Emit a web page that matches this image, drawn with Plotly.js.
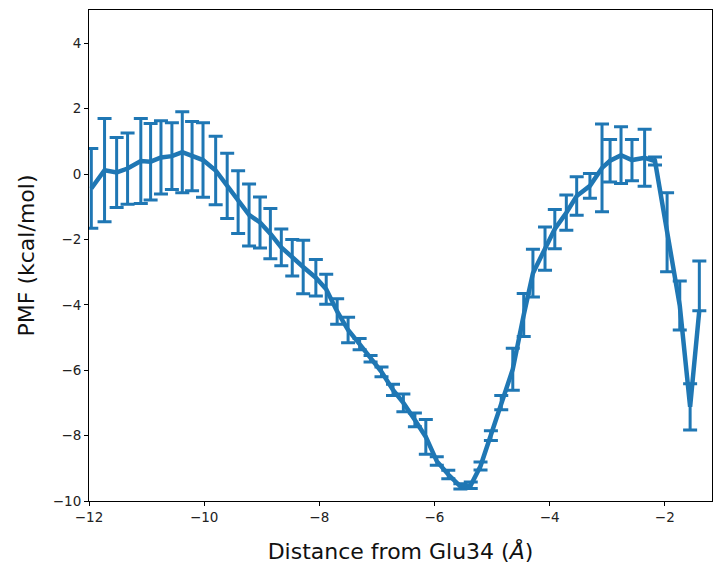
<!DOCTYPE html>
<html>
<head>
<meta charset="utf-8">
<script src="https://cdn.plot.ly/plotly-3.0.1.min.js"></script>
<style>html,body{margin:0;padding:0;background:#fff;}#chart{width:714px;height:565px;}</style>
</head>
<body>
<div id="chart"></div>
<script>
const distance = [-11.96,-11.73,-11.52,-11.33,-11.10,-10.93,-10.75,-10.56,-10.38,-10.21,
  -10.02,-9.80,-9.60,-9.41,-9.22,-9.03,-8.85,-8.66,-8.47,-8.28,
  -8.06,-7.88,-7.69,-7.50,-7.30,-7.11,-6.92,-6.72,-6.54,-6.34,
  -6.15,-5.96,-5.76,-5.55,-5.37,-5.20,-5.02,-4.84,-4.64,-4.45,
  -4.29,-4.08,-3.91,-3.71,-3.53,-3.30,-3.09,-2.95,-2.76,-2.57,
  -2.35,-2.17,-1.96,-1.74,-1.56,-1.40];
const pmf = [-0.44,0.12,0.05,0.17,0.40,0.38,0.51,0.55,0.67,0.55,
  0.43,0.11,-0.36,-0.86,-1.25,-1.48,-1.82,-2.24,-2.56,-2.84,
  -3.17,-3.52,-4.20,-4.77,-5.20,-5.65,-6.05,-6.60,-7.00,-7.52,
  -8.04,-8.78,-9.19,-9.55,-9.52,-8.93,-8.00,-6.99,-5.97,-4.31,
  -3.03,-2.28,-1.68,-1.18,-0.67,-0.36,0.19,0.41,0.58,0.43,
  0.50,0.40,-1.78,-4.02,-7.12,-4.16];
const errUp = [1.22,1.58,1.07,1.09,1.30,1.17,1.12,1.02,1.24,1.06,
  1.14,1.05,1.00,0.96,0.95,0.78,0.77,0.56,0.56,0.82,
  0.56,0.46,0.39,0.39,0.17,0.10,0.15,0.17,0.27,0.21,
  0.53,0.13,0.13,0.08,0.10,0.12,0.15,0.22,0.64,0.66,
  0.73,0.66,0.60,0.54,0.59,0.38,1.34,0.65,0.87,0.63,
  0.87,0.12,1.21,0.75,0.71,1.50];
const errDown = [1.22,1.58,1.07,1.09,1.30,1.17,1.12,1.02,1.24,1.06,
  1.14,1.05,1.00,0.96,0.95,0.78,0.77,0.56,0.56,0.82,
  0.56,0.46,0.39,0.39,0.17,0.10,0.15,0.17,0.27,0.21,
  0.53,0.13,0.13,0.08,0.10,0.12,0.15,0.22,0.64,0.66,
  0.73,0.66,0.60,0.54,0.59,0.38,1.34,0.65,0.87,0.63,
  0.87,0.12,1.21,0.75,0.71,0.02];
const xTicks = [-12,-10,-8,-6,-4,-2];
const yTicks = [-10,-8,-6,-4,-2,0,2,4];

const color = '#1f77b4';
const trace = {
  x: distance, y: pmf, type: 'scatter', mode: 'lines',
  line: {color: color, width: 4.5},
  error_y: {type: 'data', symmetric: false, array: errUp, arrayminus: errDown,
            color: color, thickness: 3, width: 7},
  hoverinfo: 'skip'
};
const fam = 'DejaVu Sans, sans-serif';
const axisCommon = {
  showgrid: false, zeroline: false, showline: true, mirror: true,
  linecolor: '#000', linewidth: 1, ticks: 'outside', ticklen: 4,
  tickcolor: '#000', tickwidth: 1, tickfont: {family: fam, size: 13.5, color: '#222'}
};
const layout = {
  width: 714, height: 565,
  margin: {l: 89, r: 2, t: 10, b: 64},
  paper_bgcolor: '#fff', plot_bgcolor: '#fff',
  showlegend: false,
  xaxis: Object.assign({}, axisCommon, {
    range: [-12, -1.18], tickmode: 'array', tickvals: xTicks,
    ticktext: xTicks.map(v => v < 0 ? '\u2212' + Math.abs(v) : String(v)),
    title: {text: 'Distance from Glu34 (<i>\u00C5</i>)', font: {family: fam, size: 22, color: '#111'}, standoff: 19}
  }),
  yaxis: Object.assign({}, axisCommon, {
    range: [-10, 5.02], tickmode: 'array', tickvals: yTicks,
    ticktext: yTicks.map(v => v < 0 ? '\u2212' + Math.abs(v) : String(v)),
    title: {text: 'PMF (kcal/mol)', font: {family: fam, size: 22, color: '#111'}, standoff: 12}
  })
};
Plotly.newPlot('chart', [trace], layout, {displayModeBar: false, staticPlot: true});
</script>
</body>
</html>
